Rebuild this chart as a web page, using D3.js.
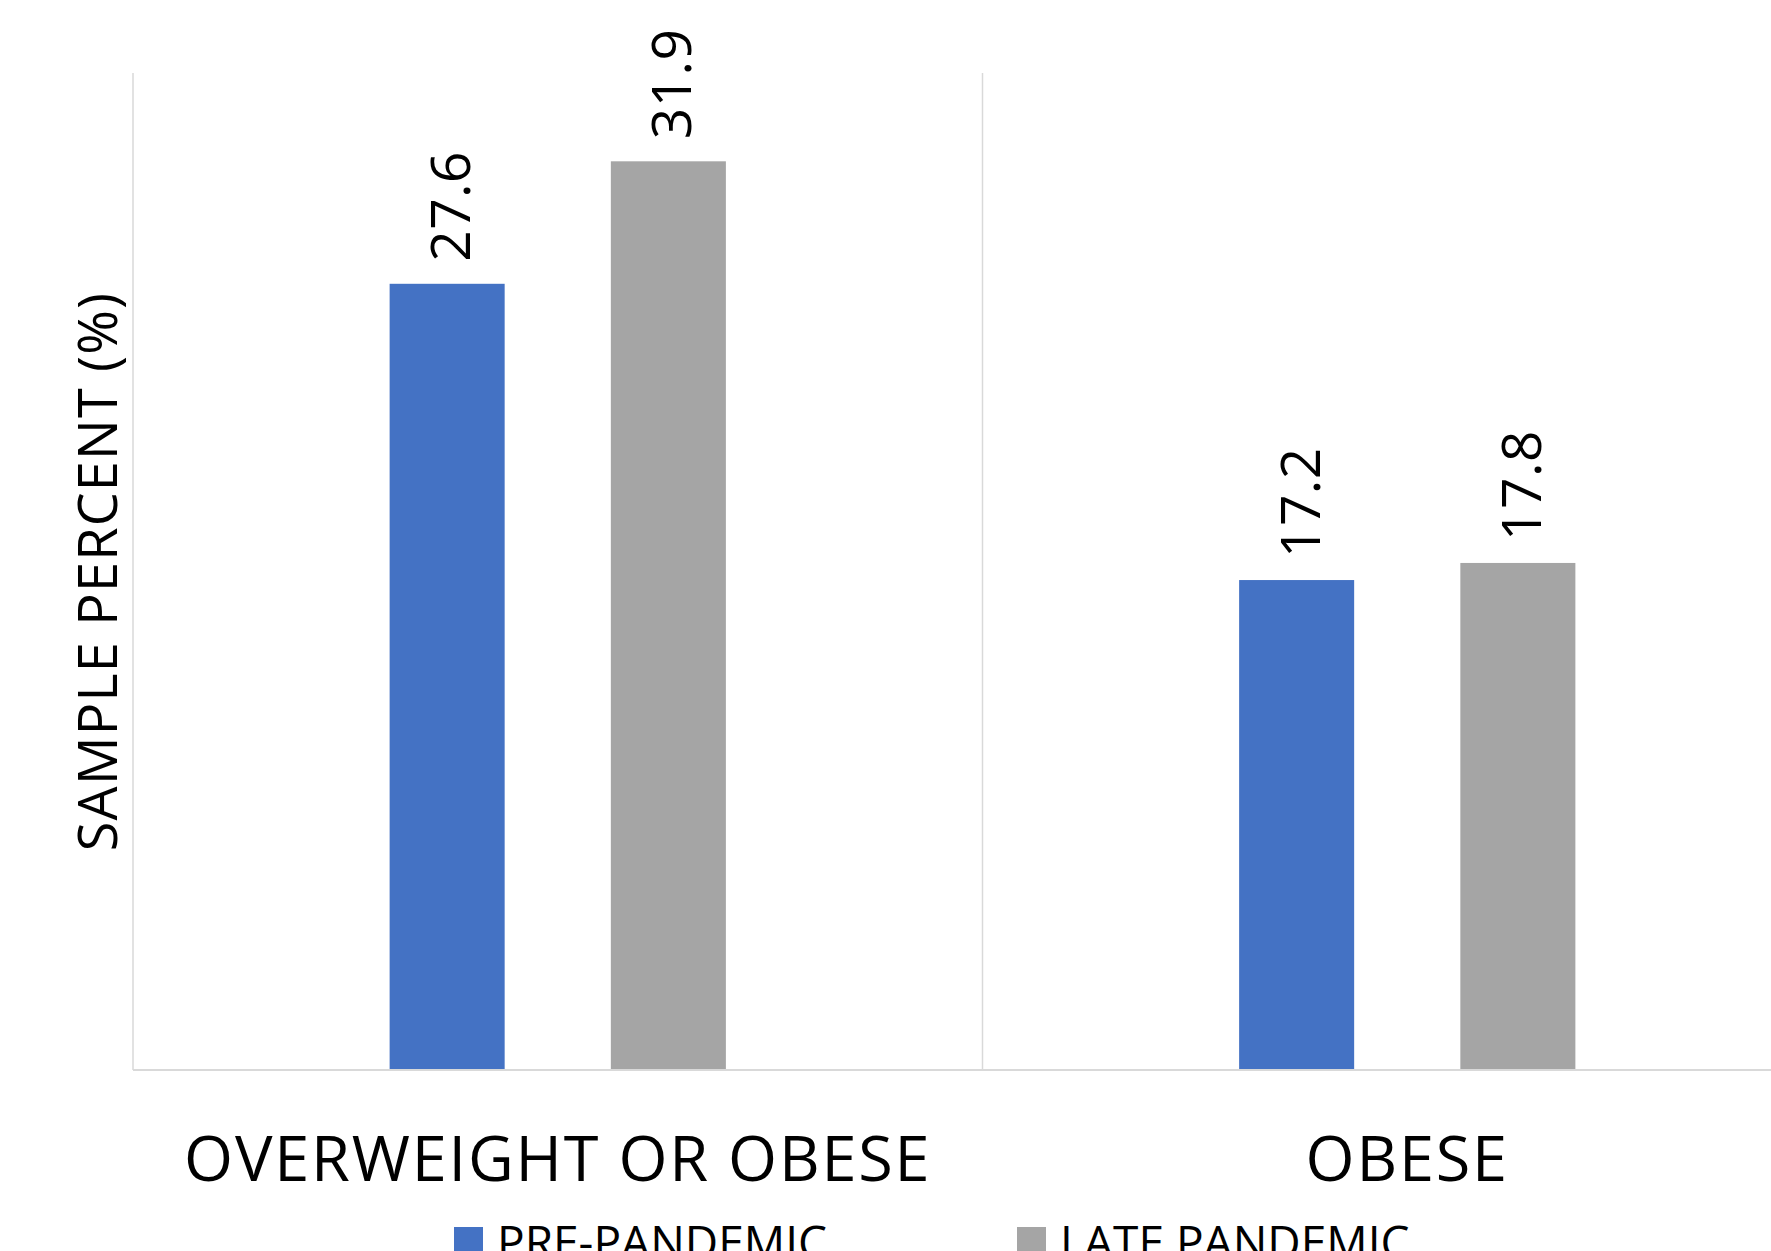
<!DOCTYPE html>
<html>
<head>
<meta charset="utf-8">
<script src="https://cdn.jsdelivr.net/npm/d3@7"></script>
<style>
    body { margin: 0; background: #fff; }
    svg { display: block; overflow: hidden; }
    text { font-family: "Open Sans", "Noto Sans", sans-serif; fill: #000; }
</style>
</head>
<body>
<div id="chart"></div>
<script>
// data
let categories = ["OVERWEIGHT OR OBESE", "OBESE"];
let seriesNames = ["PRE-PANDEMIC", "LATE PANDEMIC"];
let prePandemic = [27.6, 17.2];
let latePandemic = [31.9, 17.8];
let yDomain = [0, 35];

let seriesColors = ["#4472C4", "#A5A5A5"];

class BarVis {

    constructor(parentElement) {
        this.parentElement = parentElement;
        this.initVis()
    }

    initVis() {
        let vis = this;

        vis.width = 1771;
        vis.height = 1251;
        vis.margin = {top: 73, left: 133, bottom: 1070};

        vis.svg = d3.select("#" + vis.parentElement).append("svg")
            .attr("width", vis.width)
            .attr("height", vis.height);

        // category scale, second band runs off the right edge like the original
        vis.x0 = d3.scaleBand()
            .domain(categories)
            .range([vis.margin.left, vis.margin.left + 2 * 849.5])
            .padding(0);

        vis.x1 = d3.scaleBand()
            .domain(seriesNames)
            .range([0, vis.x0.bandwidth()])
            .paddingInner(0.48)
            .paddingOuter(1.16);

        vis.y = d3.scaleLinear()
            .domain(yDomain)
            .range([vis.margin.bottom, vis.margin.top]);

        vis.wrangleData()
    }

    wrangleData() {
        let vis = this;

        vis.displayData = categories.map((c, i) => ({
            category: c,
            values: [
                {series: seriesNames[0], value: prePandemic[i], color: seriesColors[0]},
                {series: seriesNames[1], value: latePandemic[i], color: seriesColors[1]}
            ]
        }));

        vis.updateVis()
    }

    updateVis() {
        let vis = this;

        // vertical grid lines at the band edges
        let edges = [vis.x0.range()[0]].concat(categories.slice(1).map(c => vis.x0(c)));
        vis.svg.selectAll(".vline")
            .data(edges)
            .enter().append("line")
            .attr("class", "vline")
            .attr("x1", d => d).attr("x2", d => d)
            .attr("y1", vis.y(yDomain[1]))
            .attr("y2", vis.y(0))
            .attr("stroke", "#d9d9d9")
            .attr("stroke-width", 1.5);

        // category groups
        let groups = vis.svg.selectAll(".group")
            .data(vis.displayData)
            .enter().append("g")
            .attr("class", "group")
            .attr("transform", d => `translate(${vis.x0(d.category)},0)`);

        groups.selectAll("rect")
            .data(d => d.values)
            .enter().append("rect")
            .attr("x", d => vis.x1(d.series))
            .attr("y", d => vis.y(d.value))
            .attr("width", vis.x1.bandwidth())
            .attr("height", d => vis.y(0) - vis.y(d.value))
            .attr("fill", d => d.color);

        // rotated value labels
        groups.selectAll(".value-label")
            .data(d => d.values)
            .enter().append("text")
            .attr("class", "value-label")
            .attr("transform", d => `translate(${vis.x1(d.series) + vis.x1.bandwidth() / 2 + 23}, ${vis.y(d.value) - 22}) rotate(-90)`)
            .attr("font-size", 55)
            .attr("letter-spacing", 0.5)
            .text(d => d.value.toFixed(1));

        // baseline
        vis.svg.append("line")
            .attr("x1", vis.margin.left)
            .attr("x2", vis.width)
            .attr("y1", vis.y(0))
            .attr("y2", vis.y(0))
            .attr("stroke", "#d9d9d9")
            .attr("stroke-width", 2);

        // category labels
        vis.svg.selectAll(".cat-label")
            .data(categories)
            .enter().append("text")
            .attr("class", "cat-label")
            .attr("x", d => vis.x0(d) + vis.x0.bandwidth() / 2)
            .attr("y", 1181)
            .attr("text-anchor", "middle")
            .attr("font-size", 63)
            .attr("letter-spacing", 1.8)
            .text(d => d);

        // y axis title
        vis.svg.append("text")
            .attr("transform", `translate(117, ${(vis.y(0) + vis.y(yDomain[1])) / 2}) rotate(-90)`)
            .attr("text-anchor", "middle")
            .attr("font-size", 54)
            .attr("letter-spacing", 1.2)
            .text("SAMPLE PERCENT (%)");

        // legend, cut off by the bottom edge
        let legendX = [454, 1017];
        let legend = vis.svg.selectAll(".legend-item")
            .data(seriesNames)
            .enter().append("g")
            .attr("class", "legend-item")
            .attr("transform", (d, i) => `translate(${legendX[i]}, 1227)`);

        legend.append("rect")
            .attr("width", 29)
            .attr("height", 29)
            .attr("fill", (d, i) => seriesColors[i]);

        legend.append("text")
            .attr("x", 43)
            .attr("y", 32)
            .attr("font-size", 46)
            .attr("letter-spacing", 0)
            .text(d => d);
    }
}

new BarVis("chart");
</script>
</body>
</html>
